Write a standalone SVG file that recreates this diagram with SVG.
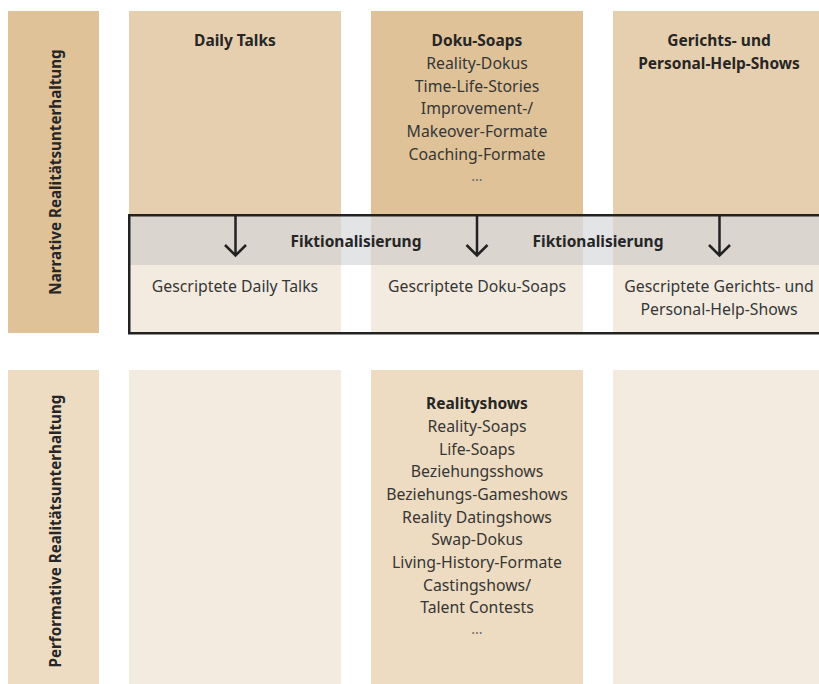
<svg xmlns="http://www.w3.org/2000/svg" width="819" height="684" viewBox="0 0 819 684">
<style>
text{font-family:"Noto Sans","Liberation Sans",sans-serif;text-anchor:middle;fill:#363636;font-size:15.8px}
.b{font-weight:bold;fill:#262626;font-size:15.5px}
.vl{font-weight:bold;fill:#262626;font-size:15.2px}
.el{fill:#666;font-size:14px}
.mid{fill:#e6cfae}
.dark{fill:#dfc298}
.light{fill:#f3ebe0}
.light2{fill:#eddcc1}
.arr{stroke:#222;stroke-width:2.5;fill:none}
</style>
<rect width="819" height="684" fill="#fff"/>
<g id="label-narrative">
<rect x="8" y="11" width="91" height="322" class="dark"/>
<text class="vl" transform="translate(61,172) rotate(-90)">Narrative Realitätsunterhaltung</text>
</g>
<g id="label-performative">
<rect x="8" y="370" width="91" height="314" class="light2"/>
<text class="vl" transform="translate(61,531) rotate(-90)">Performative Realitätsunterhaltung</text>
</g>
<g id="daily-talks">
<rect x="129" y="11" width="212" height="204" class="mid"/>
<text x="235" y="46" class="b">Daily Talks</text>
</g>
<g id="doku-soaps">
<rect x="371" y="11" width="212" height="204" class="dark"/>
<text x="477" y="46" class="b">Doku-Soaps</text>
<text x="477" y="69">Reality-Dokus</text>
<text x="477" y="91.5">Time-Life-Stories</text>
<text x="477" y="114">Improvement-/</text>
<text x="477" y="137">Makeover-Formate</text>
<text x="477" y="160">Coaching-Formate</text>
<text x="477" y="181" class="el">...</text>
</g>
<g id="gerichts">
<rect x="613" y="11" width="206" height="204" class="mid"/>
<text x="719" y="46" class="b">Gerichts- und</text>
<text x="719" y="69" class="b">Personal-Help-Shows</text>
</g>
<g id="gescriptete-daily">
<rect x="129" y="215" width="212" height="118" class="light"/>
<text x="235" y="292">Gescriptete Daily Talks</text>
</g>
<g id="gescriptete-doku">
<rect x="371" y="215" width="212" height="118" class="light"/>
<text x="477" y="292">Gescriptete Doku-Soaps</text>
</g>
<g id="gescriptete-gerichts">
<rect x="613" y="215" width="206" height="118" class="light"/>
<text x="719" y="292">Gescriptete Gerichts- und</text>
<text x="719" y="315">Personal-Help-Shows</text>
</g>
<g id="perf-col1">
<rect x="129" y="370" width="212" height="314" class="light"/>
</g>
<g id="realityshows">
<rect x="371" y="370" width="212" height="314" class="light2"/>
<text x="477" y="409" class="b">Realityshows</text>
<text x="477" y="432">Reality-Soaps</text>
<text x="477" y="455">Life-Soaps</text>
<text x="477" y="477">Beziehungsshows</text>
<text x="477" y="500">Beziehungs-Gameshows</text>
<text x="477" y="523">Reality Datingshows</text>
<text x="477" y="545">Swap-Dokus</text>
<text x="477" y="568">Living-History-Formate</text>
<text x="477" y="591">Castingshows/</text>
<text x="477" y="613">Talent Contests</text>
<text x="477" y="634" class="el">...</text>
</g>
<g id="perf-col3">
<rect x="613" y="370" width="206" height="314" class="light"/>
</g>
<g id="fiktionalisierung">
<rect x="129" y="215" width="700" height="50" fill="rgb(150,155,162)" fill-opacity="0.27"/>
<rect x="129.25" y="215.25" width="700" height="118" fill="none" stroke="#222" stroke-width="2.5"/>
<text x="356" y="247" class="b">Fiktionalisierung</text>
<text x="598" y="247" class="b">Fiktionalisierung</text>
</g>
<g id="connectors">
<path class="arr" d="M235.5 216V255M225 245L235.5 255.5L246 245"/>
<path class="arr" d="M477 216V255M466.5 245L477 255.5L487.5 245"/>
<path class="arr" d="M719.5 216V255M709 245L719.5 255.5L730 245"/>
</g>
</svg>
